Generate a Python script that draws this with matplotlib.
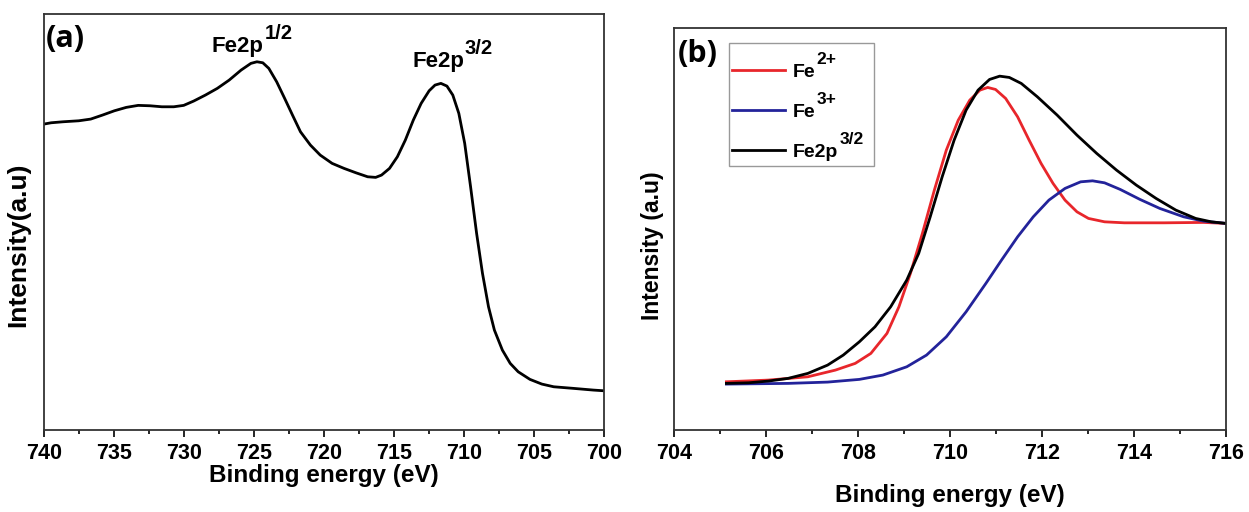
import numpy as np
import matplotlib
matplotlib.use("Agg")
import matplotlib.pyplot as plt
from matplotlib.ticker import MultipleLocator, NullLocator
from matplotlib.patches import Rectangle

plt.rcParams['font.family'] = ['Liberation Sans', 'DejaVu Sans']
plt.rcParams['font.weight'] = 'bold'

# --- panel (a): Fe 2p region ---
energy_a = [740.0, 739.49, 738.64, 737.51, 736.66, 735.82, 734.97, 734.12, 733.27, 732.42,
            731.58, 730.73, 730.02, 729.31, 728.47, 727.62, 726.77, 725.92, 725.22, 724.79,
            724.37, 723.94, 723.38, 722.81, 722.25, 721.68, 720.97, 720.27, 719.42, 718.57,
            717.72, 716.88, 716.31, 715.89, 715.32, 714.76, 714.19, 713.62, 713.06, 712.49,
            712.07, 711.65, 711.22, 710.80, 710.37, 709.95, 709.53, 709.10, 708.68, 708.25,
            707.83, 707.26, 706.70, 706.13, 705.29, 704.44, 703.59, 702.18, 700.76, 700.0]
intensity_a = [306.0, 307.3, 308.3, 309.3, 311.0, 315.0, 319.3, 322.7, 324.7, 324.3,
               323.3, 323.3, 324.7, 329.0, 335.0, 341.7, 350.0, 360.0, 366.7, 368.3,
               367.3, 361.7, 348.3, 331.7, 315.0, 298.3, 285.0, 275.0, 266.7, 261.7,
               257.3, 253.3, 252.7, 255.0, 261.7, 273.3, 290.0, 310.0, 326.7, 339.3,
               345.0, 346.7, 344.0, 335.0, 316.7, 286.7, 243.3, 196.7, 156.7, 123.3,
               100.0, 80.0, 66.7, 58.3, 50.7, 46.0, 43.3, 41.7, 40.0, 39.3]

# --- panel (b): Fe2p3/2 deconvolution ---
energy_total = [705.14, 705.62, 706.05, 706.48, 706.91, 707.34, 707.68, 708.03, 708.37, 708.71,
                709.06, 709.32, 709.57, 709.83, 710.09, 710.35, 710.61, 710.86, 711.08, 711.29,
                711.55, 711.90, 712.33, 712.76, 713.19, 713.62, 714.05, 714.48, 714.91, 715.34,
                715.68, 716.0]
intensity_total = [46.7, 47.3, 49.0, 51.7, 56.7, 65.0, 75.0, 88.3, 103.3, 123.3,
                   150.0, 176.7, 213.3, 253.3, 290.0, 320.0, 340.0, 350.7, 354.0, 352.7,
                   346.7, 333.3, 315.0, 295.0, 276.7, 260.0, 245.0, 231.7, 220.0, 211.7,
                   208.3, 206.7]

energy_fe2 = [705.14, 706.05, 706.91, 707.51, 707.94, 708.28, 708.63, 708.89, 709.14, 709.40,
              709.66, 709.92, 710.18, 710.43, 710.65, 710.82, 710.99, 711.21, 711.47, 711.72,
              711.98, 712.24, 712.50, 712.76, 713.01, 713.36, 713.79, 714.65, 715.51, 716.0]
intensity_fe2 = [48.3, 50.0, 53.3, 60.0, 66.7, 76.7, 96.7, 123.3, 156.7, 196.7,
                 240.0, 280.0, 310.0, 330.0, 340.0, 342.7, 340.7, 331.7, 313.3, 290.0,
                 266.7, 246.7, 230.0, 218.3, 211.7, 208.3, 207.3, 207.3, 207.7, 206.7]

energy_fe3 = [705.14, 706.48, 707.34, 708.03, 708.54, 709.06, 709.49, 709.92, 710.35, 710.78,
              711.12, 711.47, 711.81, 712.15, 712.50, 712.84, 713.10, 713.36, 713.70, 714.13,
              714.56, 715.08, 715.51, 716.0]
intensity_fe3 = [46.0, 46.7, 48.0, 50.7, 55.0, 63.3, 75.0, 93.3, 118.3, 146.7,
                 170.0, 193.3, 213.3, 230.0, 241.7, 248.3, 249.3, 247.3, 240.7, 230.7,
                 221.7, 213.3, 209.0, 206.7]

fig = plt.figure(figsize=(12.49, 5.12), dpi=100)
ax1 = fig.add_axes([0.0352, 0.160, 0.4484, 0.8125])
ax2 = fig.add_axes([0.5396, 0.160, 0.4420, 0.785])

for ax in (ax1, ax2):
    ax.yaxis.set_major_locator(NullLocator())
    ax.tick_params(axis='x', direction='out', length=5, width=1.2, labelsize=15.5, pad=4)
    ax.tick_params(axis='x', which='minor', direction='out', length=3, width=1.2)
    for s in ax.spines.values():
        s.set_linewidth(1.3)
        s.set_color('#333333')


def add_sup(base_text, sup, size, rise_px, gap_px=1):
    """Put a superscript right after a text object (needs a drawn canvas)."""
    bb = base_text.get_window_extent()
    bx, by = base_text.get_transform().transform(base_text.get_position())
    return fig.text(bb.x1 + gap_px, by + rise_px, sup, transform=None,
                    fontsize=size, fontweight='bold', ha='left', va='baseline')


# (a)
ax1.plot(energy_a, intensity_a, color='black', lw=2)
ax1.set_xlim(740, 700)
ax1.set_ylim(0, 416)
ax1.xaxis.set_major_locator(MultipleLocator(5))
ax1.xaxis.set_minor_locator(MultipleLocator(2.5))
ax1.set_xlabel('Binding energy (eV)', fontsize=17.5, fontweight='bold', labelpad=0)
ax1.set_ylabel('Intensity(a.u)', fontsize=19, fontweight='bold')
ax1.yaxis.set_label_coords(-0.024, 0.445)
ax1.text(0.004, 0.92, '(a)', transform=ax1.transAxes, fontsize=22,
         fontweight='bold', family=['Open Sans', 'DejaVu Sans'])
peak1 = ax1.text(728.0, 378, 'Fe2p', ha='left', va='baseline', fontsize=16)
peak2 = ax1.text(713.71, 363, 'Fe2p', ha='left', va='baseline', fontsize=16)

# (b)
ax2.plot(energy_fe2, intensity_fe2, color='#e8262b', lw=2, label='Fe')
ax2.plot(energy_fe3, intensity_fe3, color='#23239a', lw=2, label='Fe')
ax2.plot(energy_total, intensity_total, color='black', lw=2, label='Fe2p')
ax2.set_xlim(704, 716)
ax2.set_ylim(0, 402)
ax2.xaxis.set_major_locator(MultipleLocator(2))
ax2.xaxis.set_minor_locator(MultipleLocator(1))
ax2.set_xlabel('Binding energy (eV)', fontsize=17.5, fontweight='bold', labelpad=15)
ax2.set_ylabel('Intensity (a.u)', fontsize=16.5, fontweight='bold')
ax2.yaxis.set_label_coords(-0.018, 0.46)
ax2.text(0.006, 0.915, '(b)', transform=ax2.transAxes, fontsize=22,
         fontweight='bold', family=['Open Sans', 'DejaVu Sans'])
leg = ax2.legend(loc='upper left', bbox_to_anchor=(0.105, 0.913), fontsize=14,
                 frameon=False, handlelength=2.75, handletextpad=0.4,
                 labelspacing=1.15, borderpad=0, borderaxespad=0)
ax2.add_patch(Rectangle((0.0996, 0.657), 0.2627, 0.306, transform=ax2.transAxes,
                        fill=False, edgecolor='#999999', lw=1.0))

fig.canvas.draw()
add_sup(peak1, '1/2', 14.5, 13)
add_sup(peak2, '3/2', 14.5, 13)
for t, s in zip(leg.get_texts(), ['2+', '3+', '3/2']):
    add_sup(t, s, 12.5, 13)

fig.savefig('out.png', dpi=100)
